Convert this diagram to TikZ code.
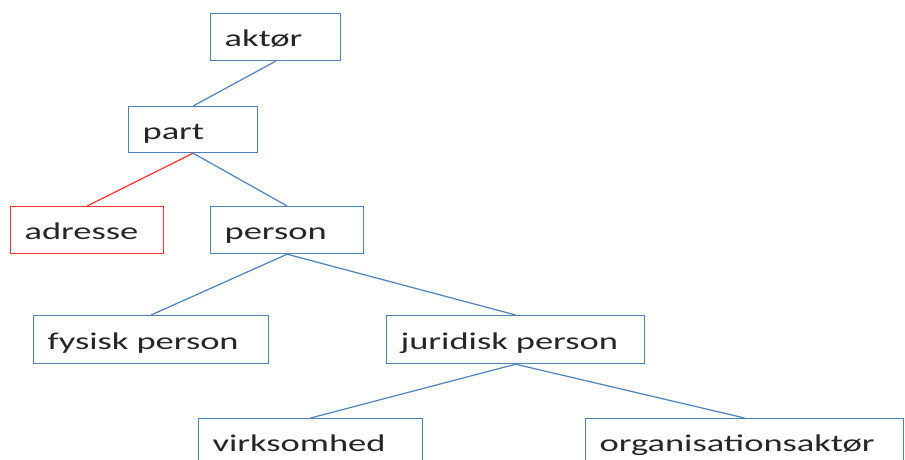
\documentclass[tikz,border=0pt]{standalone}
\usepackage{fontspec}
\newfontfamily\boxfont[FakeStretch=1.52]{Carlito}
\definecolor{boxblue}{RGB}{79,129,189}
\definecolor{boxred}{RGB}{255,50,50}
\tikzset{
  box/.style={draw=boxblue, line width=1.2pt, rectangle, anchor=north west,
    inner xsep=14pt, inner ysep=0pt, align=left,
    text height=19pt, text depth=0pt,
    font=\boxfont\fontsize{24}{24}\selectfont, text=black!85},
  redbox/.style={box, draw=boxred},
  link/.style={draw=boxblue, line width=1.2pt},
  redlink/.style={draw=boxred, line width=1.2pt}
}
\begin{document}
\begin{tikzpicture}[x=1pt,y=-1pt]
\useasboundingbox[fill=white] (0,0) rectangle (905,460);
\node[box, text width=102pt, minimum height=47pt] (aktor) at (210,13) {aktør};
\node[box, text width=101pt, minimum height=46pt] (part) at (128,106) {part};
\node[redbox, text width=125pt, minimum height=47pt] (adresse) at (10,206) {adresse};
\node[box, text width=125pt, minimum height=47pt] (person) at (210,206) {person};
\node[box, text width=207pt, minimum height=48pt] (fysisk) at (33,315) {fysisk person};
\node[box, text width=230pt, minimum height=48pt] (juridisk) at (386,315) {juridisk person};
\node[box, text width=196pt, minimum height=47pt] (virk) at (198,418) {virksomhed};
\node[box, text width=290pt, minimum height=47pt] (org) at (585,418) {organisationsaktør};
\draw[link] (aktor.south) -- (part.north);
\draw[redlink] (part.south) -- (adresse.north);
\draw[link] (part.south) -- (person.north);
\draw[link] (person.south) -- (fysisk.north);
\draw[link] (person.south) -- (juridisk.north);
\draw[link] (juridisk.south) -- (virk.north);
\draw[link] (juridisk.south) -- (org.north);
\end{tikzpicture}
\end{document}
